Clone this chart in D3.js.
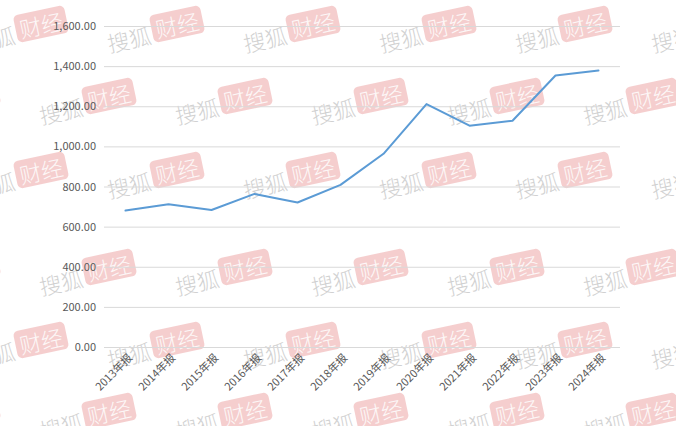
<!DOCTYPE html>
<html>
<head>
<meta charset="utf-8">
<script src="https://cdn.jsdelivr.net/npm/d3@7"></script>
<style>
html,body{margin:0;padding:0;background:#fff;}
svg{display:block;}
</style>
</head>
<body>
<svg id="chart" width="676" height="426"></svg>
<script>
const categories = ["2013年报","2014年报","2015年报","2016年报","2017年报","2018年报","2019年报","2020年报","2021年报","2022年报","2023年报","2024年报"];
const values = [680, 711, 683, 763, 720, 808, 963, 1211, 1103, 1128, 1353, 1378];
const yTicks = [0, 200, 400, 600, 800, 1000, 1200, 1400, 1600];

const svg = d3.select("#chart");
const font = "'Noto Sans CJK SC','Noto Sans',sans-serif";

const x = d3.scaleBand().domain(categories).range([104, 620]);
const y = d3.scaleLinear().domain([0, 1600]).range([347, 26]);

// watermark layer (behind the chart)
const wm = svg.append("g").attr("pointer-events", "none");
const rowsY = [24, 96, 170, 267, 340, 411];
rowsY.forEach((ry, r) => {
  const x0 = (r % 2 === 0) ? 41 : -27;
  for (let bx = x0; bx < 676 + 120; bx += 136) {
    const g = wm.append("g").attr("transform", `translate(${bx},${ry}) rotate(-12)`);
    g.append("rect").attr("x", -26).attr("y", -14).attr("width", 52).attr("height", 28).attr("rx", 5)
      .attr("fill", "#e06666").attr("opacity", 0.32);
    g.append("text").attr("x", 0).attr("y", 0).attr("text-anchor", "middle").attr("dominant-baseline", "central")
      .attr("font-family", font).attr("font-weight", 300).attr("font-size", "22px").attr("fill", "#fff").attr("opacity", 0.85).text("财经");
    g.append("text").attr("x", -50).attr("y", 4).attr("text-anchor", "middle").attr("dominant-baseline", "central")
      .attr("font-family", font).attr("font-weight", 300).attr("font-size", "22px").attr("fill", "#888").attr("opacity", 0.38).text("搜狐");
  }
});

// gridlines + y labels
const yAxis = d3.axisLeft(y).tickValues(yTicks).tickSize(-(620-104)).tickPadding(8).tickFormat(d3.format(",.2f"));
const gy = svg.append("g").attr("transform", "translate(104,0)").call(yAxis);
gy.select(".domain").remove();
gy.selectAll(".tick line").attr("stroke", "#d9d9d9").attr("stroke-width", 1);
gy.selectAll(".tick text").attr("fill", "#595959").attr("font-size", "11px").attr("font-family", font);

// x labels
const xAxis = d3.axisBottom(x).tickSize(0).tickPadding(0);
const gx = svg.append("g").attr("transform", "translate(0,347)").call(xAxis);
gx.select(".domain").remove();
gx.selectAll(".tick text")
  .attr("fill", "#595959").attr("font-size", "11px").attr("font-family", font)
  .attr("text-anchor", "end").attr("dy", null).attr("y", 0)
  .attr("transform", "translate(4,8) rotate(-45)")
  .attr("dominant-baseline", "central");

// line
const line = d3.line().x((d,i) => x(categories[i]) + x.bandwidth()/2).y(d => y(d));
svg.append("path").datum(values)
  .attr("d", line).attr("fill", "none")
  .attr("stroke", "#5b9bd5").attr("stroke-width", 2)
  .attr("stroke-linejoin", "round").attr("stroke-linecap", "round");
</script>
</body>
</html>
